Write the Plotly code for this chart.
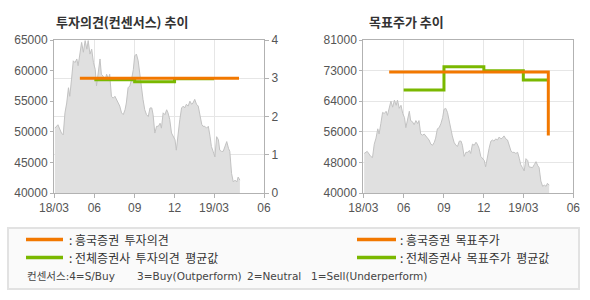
import plotly.graph_objects as go

# ---- data ----
price_dates = [
    "2018-03-03","2018-03-10","2018-03-18","2018-03-22","2018-03-26","2018-03-30","2018-04-03","2018-04-06",
    "2018-04-10","2018-04-14","2018-04-18","2018-04-22","2018-04-25","2018-04-29","2018-05-03","2018-05-07",
    "2018-05-11","2018-05-15","2018-05-18","2018-05-22","2018-05-26","2018-05-30","2018-06-03","2018-06-06",
    "2018-06-10","2018-06-14","2018-06-17","2018-06-21","2018-06-25","2018-06-29","2018-07-03","2018-07-06",
    "2018-07-10","2018-07-14","2018-07-18","2018-07-22","2018-07-25","2018-07-29","2018-08-02","2018-08-06",
    "2018-08-10","2018-08-13","2018-08-17","2018-08-21","2018-08-25","2018-08-29","2018-09-01","2018-09-05",
    "2018-09-09","2018-09-13","2018-09-17","2018-09-20","2018-09-24","2018-09-28","2018-10-02","2018-10-06",
    "2018-10-10","2018-10-13","2018-10-17","2018-10-21","2018-10-25","2018-10-29","2018-11-01","2018-11-05",
    "2018-11-09","2018-11-13","2018-11-16","2018-11-20","2018-11-24","2018-11-28","2018-12-02","2018-12-05",
    "2018-12-09","2018-12-13","2018-12-17","2018-12-21","2018-12-24","2018-12-28","2019-01-01","2019-01-05",
    "2019-01-09","2019-01-12","2019-01-16","2019-01-20","2019-01-24","2019-01-28","2019-02-01","2019-02-04",
    "2019-02-08","2019-02-12","2019-02-16","2019-02-20","2019-02-23","2019-02-27","2019-03-03","2019-03-07",
    "2019-03-11","2019-03-14","2019-03-18","2019-03-22","2019-03-26","2019-03-30","2019-04-03","2019-04-06",
    "2019-04-10","2019-04-14","2019-04-18","2019-04-22","2019-04-25","2019-04-29",
]
price_values = [
    50600,51150,49800,49500,53100,54700,57200,55800,
    58600,61600,61300,61900,60800,63000,64600,63000,
    64900,63500,64900,62700,63500,61300,60200,57500,
    60200,61900,59400,59100,58300,59400,58600,59400,
    55800,55500,55800,55300,54700,54200,53100,52800,
    53600,54700,57200,57500,58600,60200,62400,62700,
    61600,59100,57500,55300,53600,52800,52500,53900,
    53900,52800,49800,50900,50900,51400,50600,53100,
    52800,53600,53100,52000,49800,49200,48700,47000,
    49800,52000,53900,54200,53900,54500,54200,55000,
    54500,54700,55300,54500,54200,52800,51200,50900,
    50900,50600,50900,49200,47600,46800,45900,49200,
    48700,47000,46800,46800,47600,48400,47300,46800,
    43200,41800,42100,41800,42600,42100,
]

# opinion (consensus) 4=S/Buy 3=Buy 2=Neutral 1=Sell
firm_opinion_dates = ["2018-04-29", "2019-04-27"]
firm_opinion_values = [3.0, 3.0]
avg_opinion_dates = ["2018-06-01", "2018-09-01", "2018-12-01", "2019-03-01"]
avg_opinion_values = [2.96, 2.91, 2.99, 2.99]

# target price
firm_target_dates = ["2018-04-29", "2019-04-27", "2019-04-27"]
firm_target_values = [72400, 72400, 55400]
avg_target_dates = ["2018-06-01", "2018-09-01", "2018-12-01", "2019-03-01", "2019-04-27"]
avg_target_values = [67600, 73850, 72780, 70280, 70280]

x_tick_dates = ["2018-03-01", "2018-06-01", "2018-09-01", "2018-12-01", "2019-03-01", "2019-06-23"]
x_tick_labels = ["18/03", "06", "09", "12", "19/03", "06"]
x_range = ["2018-03-01", "2019-06-23"]
left_price_ticks = [40000, 45000, 50000, 55000, 60000, 65000]
left_price_labels = ["40000", "45000", "50000", "55000", "60000", "65000"]
opinion_ticks = [0, 1, 2, 3, 4]
right_price_tickvals = [40000, 48200, 56400, 64600, 72800, 81000]
right_price_ticktext = ["40000", "48000", "56000", "64000", "73000", "81000"]

# ---- style ----
W, H = 590, 300
ORANGE = "#f27800"
GREEN = "#7ab800"
AREA = "#e0e0e0"
AREA_LINE = "#c2c2c2"
GRID = "#e6e6e6"
AXIS = "#b2b2b2"
TXT = "#555555"
NUM_FONT = "Liberation Sans, Arial, sans-serif"
KR_FONT = "Noto Sans CJK KR, sans-serif"
MIX_FONT = "DejaVu Sans, Noto Sans CJK KR, sans-serif"

def px(x):
    return x / W

def py(y):
    return 1 - y / H

fig = go.Figure()

# left chart
fig.add_trace(go.Scatter(x=price_dates, y=price_values, mode="lines", fill="tozeroy",
                         fillcolor=AREA, line=dict(color=AREA_LINE, width=1),
                         xaxis="x", yaxis="y", hoverinfo="skip", showlegend=False))
fig.add_trace(go.Scatter(x=avg_opinion_dates, y=avg_opinion_values, mode="lines",
                         line=dict(color=GREEN, width=3, shape="hv"),
                         xaxis="x", yaxis="y2", showlegend=False))
fig.add_trace(go.Scatter(x=firm_opinion_dates, y=firm_opinion_values, mode="lines",
                         line=dict(color=ORANGE, width=3),
                         xaxis="x", yaxis="y2", showlegend=False))

# right chart
fig.add_trace(go.Scatter(x=price_dates, y=price_values, mode="lines", fill="tozeroy",
                         fillcolor=AREA, line=dict(color=AREA_LINE, width=1),
                         xaxis="x2", yaxis="y3", hoverinfo="skip", showlegend=False))
fig.add_trace(go.Scatter(x=avg_target_dates, y=avg_target_values, mode="lines",
                         line=dict(color=GREEN, width=3, shape="hv"),
                         xaxis="x2", yaxis="y3", showlegend=False))
fig.add_trace(go.Scatter(x=firm_target_dates, y=firm_target_values, mode="lines",
                         line=dict(color=ORANGE, width=3),
                         xaxis="x2", yaxis="y3", showlegend=False))

tickfont = dict(family=NUM_FONT, size=12, color=TXT)
xcommon = dict(type="date", range=x_range, tickmode="array", tickvals=x_tick_dates,
               ticktext=x_tick_labels, showgrid=True, gridcolor=GRID, gridwidth=1,
               showline=True, linecolor=AXIS, linewidth=1, mirror=True,
               ticks="outside", ticklen=4, tickcolor=AXIS, tickfont=tickfont,
               zeroline=False, fixedrange=True, automargin=False)
ydom = [py(193), py(40)]

fig.update_layout(
    width=W, height=H,
    margin=dict(l=0, r=0, t=0, b=0),
    paper_bgcolor="white", plot_bgcolor="white",
    showlegend=False,
    xaxis=dict(domain=[px(54), px(264)], anchor="y", **xcommon),
    yaxis=dict(domain=ydom, range=[40000, 65000], tickmode="array", tickvals=left_price_ticks,
               ticktext=left_price_labels, automargin=False,
               showgrid=False, showline=True, linecolor=AXIS, mirror=True, ticks="outside",
               ticklen=3, tickcolor=AXIS, tickfont=tickfont, zeroline=False, anchor="x"),
    yaxis2=dict(overlaying="y", side="right", anchor="x", range=[0, 4], tickmode="array",
                tickvals=opinion_ticks, showgrid=True, gridcolor=GRID, showline=True,
                linecolor=AXIS, ticks="outside", ticklen=4, tickcolor=AXIS,
                tickfont=tickfont, zeroline=False, automargin=False),
    xaxis2=dict(domain=[px(363.3), px(573.3)], anchor="y3", **xcommon),
    yaxis3=dict(domain=ydom, range=[40000, 81000], tickmode="array",
                tickvals=right_price_tickvals, ticktext=right_price_ticktext,
                showgrid=True, gridcolor=GRID, showline=True, linecolor=AXIS, mirror=True,
                ticks="outside", ticklen=3, tickcolor=AXIS, tickfont=tickfont,
                zeroline=False, anchor="x2", automargin=False),
)

# titles
fig.add_annotation(x=px(54), y=py(21), xref="paper", yref="paper", xanchor="left", yanchor="middle",
                   text="<b>투자의견(컨센서스) 추이</b>", showarrow=False,
                   font=dict(family=KR_FONT, size=13, color="#333333"))
fig.add_annotation(x=px(366.5), y=py(21), xref="paper", yref="paper", xanchor="left", yanchor="middle",
                   text="<b>목표주가 추이</b>", showarrow=False,
                   font=dict(family=KR_FONT, size=13, color="#333333"))

# legend box
fig.add_shape(type="rect", xref="paper", yref="paper", x0=px(8), x1=px(579), y0=py(289), y1=py(228),
              line=dict(color="#e2e2e2", width=2), fillcolor="#fafafa", layer="below")

legend_items = [
    (26, 63, 239.5, ORANGE, ": 흥국증권  투자의견", 67),
    (26, 63, 257.5, GREEN, ": 전체증권사  투자의견  평균값", 67),
    (357, 396, 239.5, ORANGE, ": 흥국증권  목표주가", 398),
    (357, 396, 257.5, GREEN, ": 전체증권사  목표주가  평균값", 398),
]
for x0, x1, yy, col, label, tx in legend_items:
    fig.add_shape(type="line", xref="paper", yref="paper", x0=px(x0), x1=px(x1), y0=py(yy), y1=py(yy),
                  line=dict(color=col, width=3.5))
    fig.add_annotation(x=px(tx), y=py(yy), xref="paper", yref="paper", xanchor="left", yanchor="middle",
                       text=label, showarrow=False, font=dict(family=KR_FONT, size=12, color="#333333"))

consensus_parts = [(25, "컨센서스:4=S/Buy"), (135, "3=Buy(Outperform)"),
                   (245, "2=Neutral"), (309, "1=Sell(Underperform)")]
for tx, label in consensus_parts:
    fig.add_annotation(x=px(tx), y=py(276), xref="paper", yref="paper", xanchor="left", yanchor="middle",
                       text=label, showarrow=False, font=dict(family=MIX_FONT, size=10.5, color="#444444"))

fig.write_html("out.html")
